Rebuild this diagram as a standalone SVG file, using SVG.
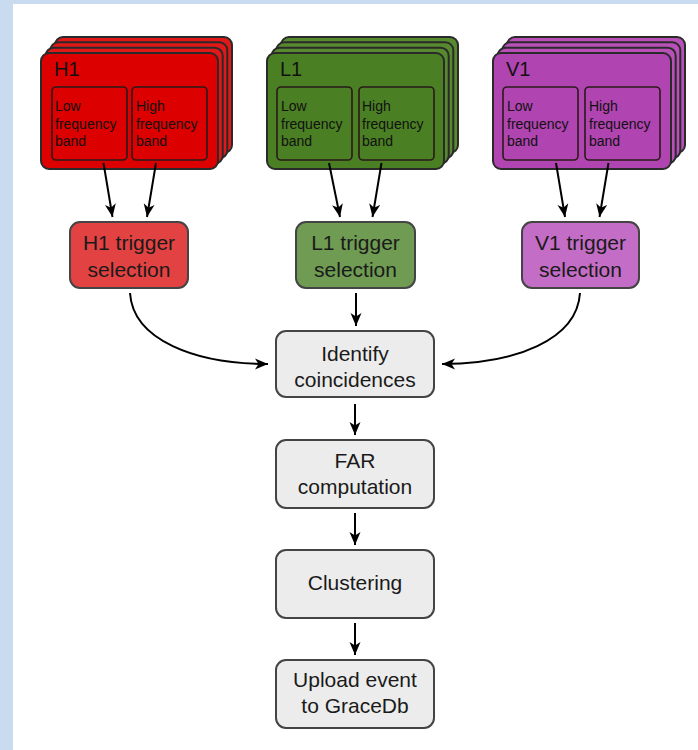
<svg xmlns="http://www.w3.org/2000/svg" width="698" height="750" viewBox="0 0 698 750">
<defs>
<style>
.stk{stroke:#2a2a2a;stroke-width:2}
.inr{stroke:#2a1a1a;stroke-width:1.6}
.h1{fill:#dc0000}
.h1b{fill:#e01818}
.l1{fill:#4b7f23}
.l1b{fill:#578a2e}
.v1{fill:#b044b0}
.v1b{fill:#b850b8}
.box{stroke:#444;stroke-width:2}
.gray{fill:#ececec}
.lbl{font-family:"Liberation Sans",Arial,sans-serif;font-size:20px;fill:#111}
.sm{font-family:"Liberation Sans",Arial,sans-serif;font-size:14px;fill:#111}
.t{font-family:"Liberation Sans",Arial,sans-serif;font-size:21px;fill:#1a1a1a;text-anchor:middle}
.c{fill:none;stroke:#000;stroke-width:2;marker-end:url(#ah)}
</style>
<marker id="ah" markerUnits="userSpaceOnUse" markerWidth="14" markerHeight="12" refX="13" refY="6" orient="auto">
<path d="M0,0.5 L13,6 L0,11.5 L3.5,6 Z" fill="#000"/>
</marker>
</defs>
<rect x="0" y="0" width="698" height="750" fill="#ffffff"/>
<rect x="0" y="0" width="698" height="4" fill="#c9dcef"/>
<rect x="0" y="0" width="13" height="750" fill="#c9dcef"/>

<g id="H1">
<rect class="stk h1b" x="55" y="37" width="177" height="116" rx="8"/>
<rect class="stk h1b" x="50.3" y="42.3" width="177" height="116" rx="8"/>
<rect class="stk h1b" x="45.7" y="47.7" width="177" height="116" rx="8"/>
<rect class="stk h1" x="41" y="53" width="177" height="116" rx="8"/>
<text class="lbl" x="54" y="76">H1</text>
<rect class="inr h1" x="52" y="87" width="75" height="73" rx="4"/>
<rect class="inr h1" x="132" y="87" width="75" height="73" rx="4"/>
<text class="sm" x="55" y="111">Low</text>
<text class="sm" x="55" y="129">frequency</text>
<text class="sm" x="55" y="146">band</text>
<text class="sm" x="136" y="111">High</text>
<text class="sm" x="136" y="129">frequency</text>
<text class="sm" x="136" y="146">band</text>
</g>

<g id="L1">
<rect class="stk l1b" x="281" y="37" width="177" height="116" rx="8"/>
<rect class="stk l1b" x="276.3" y="42.3" width="177" height="116" rx="8"/>
<rect class="stk l1b" x="271.7" y="47.7" width="177" height="116" rx="8"/>
<rect class="stk l1" x="267" y="53" width="177" height="116" rx="8"/>
<text class="lbl" x="280" y="76">L1</text>
<rect class="inr l1" x="277" y="87" width="75" height="73" rx="4"/>
<rect class="inr l1" x="359" y="87" width="75" height="73" rx="4"/>
<text class="sm" x="281" y="111">Low</text>
<text class="sm" x="281" y="129">frequency</text>
<text class="sm" x="281" y="146">band</text>
<text class="sm" x="362" y="111">High</text>
<text class="sm" x="362" y="129">frequency</text>
<text class="sm" x="362" y="146">band</text>
</g>

<g id="V1">
<rect class="stk v1b" x="507" y="37" width="178" height="116" rx="8"/>
<rect class="stk v1b" x="502.3" y="42.3" width="178" height="116" rx="8"/>
<rect class="stk v1b" x="497.7" y="47.7" width="178" height="116" rx="8"/>
<rect class="stk v1" x="493" y="53" width="178" height="116" rx="8"/>
<text class="lbl" x="506" y="76">V1</text>
<rect class="inr v1" x="503" y="87" width="75" height="73" rx="4"/>
<rect class="inr v1" x="585" y="87" width="75" height="73" rx="4"/>
<text class="sm" x="507" y="111">Low</text>
<text class="sm" x="507" y="129">frequency</text>
<text class="sm" x="507" y="146">band</text>
<text class="sm" x="589" y="111">High</text>
<text class="sm" x="589" y="129">frequency</text>
<text class="sm" x="589" y="146">band</text>
</g>

<g id="H1trig">
<rect class="box" x="70" y="222" width="118" height="66" rx="10" fill="#e34242"/>
<text class="t" x="129" y="250">H1 trigger</text>
<text class="t" x="129" y="277">selection</text>
</g>
<g id="L1trig">
<rect class="box" x="296" y="222" width="119" height="66" rx="10" fill="#6f9b52"/>
<text class="t" x="355.5" y="250">L1 trigger</text>
<text class="t" x="355.5" y="277">selection</text>
</g>
<g id="V1trig">
<rect class="box" x="522" y="222" width="117" height="66" rx="10" fill="#c46dc6"/>
<text class="t" x="580.5" y="250">V1 trigger</text>
<text class="t" x="580.5" y="277">selection</text>
</g>

<g id="identify">
<rect class="box gray" x="276" y="331" width="158" height="66" rx="10"/>
<text class="t" x="355" y="361">Identify</text>
<text class="t" x="355" y="387">coincidences</text>
</g>
<g id="far">
<rect class="box gray" x="276" y="440" width="158" height="68" rx="10"/>
<text class="t" x="355" y="468">FAR</text>
<text class="t" x="355" y="494">computation</text>
</g>
<g id="clustering">
<rect class="box gray" x="276" y="550" width="158" height="68" rx="10"/>
<text class="t" x="355" y="590">Clustering</text>
</g>
<g id="upload">
<rect class="box gray" x="276" y="660" width="158" height="68" rx="10"/>
<text class="t" x="355" y="687">Upload event</text>
<text class="t" x="355" y="713">to GraceDb</text>
</g>

<g id="connectors">
<path class="c" d="M103.5,163 L112.5,217"/>
<path class="c" d="M156,163 L147,217"/>
<path class="c" d="M329,163 L340,217"/>
<path class="c" d="M381.5,163 L372.5,217"/>
<path class="c" d="M556,163 L565,217"/>
<path class="c" d="M608.5,163 L599.5,217"/>
<path class="c" d="M356,293 L356,326"/>
<path class="c" d="M130,293 C133,340 195,364 268,364"/>
<path class="c" d="M580,293 C577,340 515,364 442,364"/>
<path class="c" d="M355,404 L355,435"/>
<path class="c" d="M355,513 L355,545"/>
<path class="c" d="M355,623 L355,655"/>
</g>
</svg>
